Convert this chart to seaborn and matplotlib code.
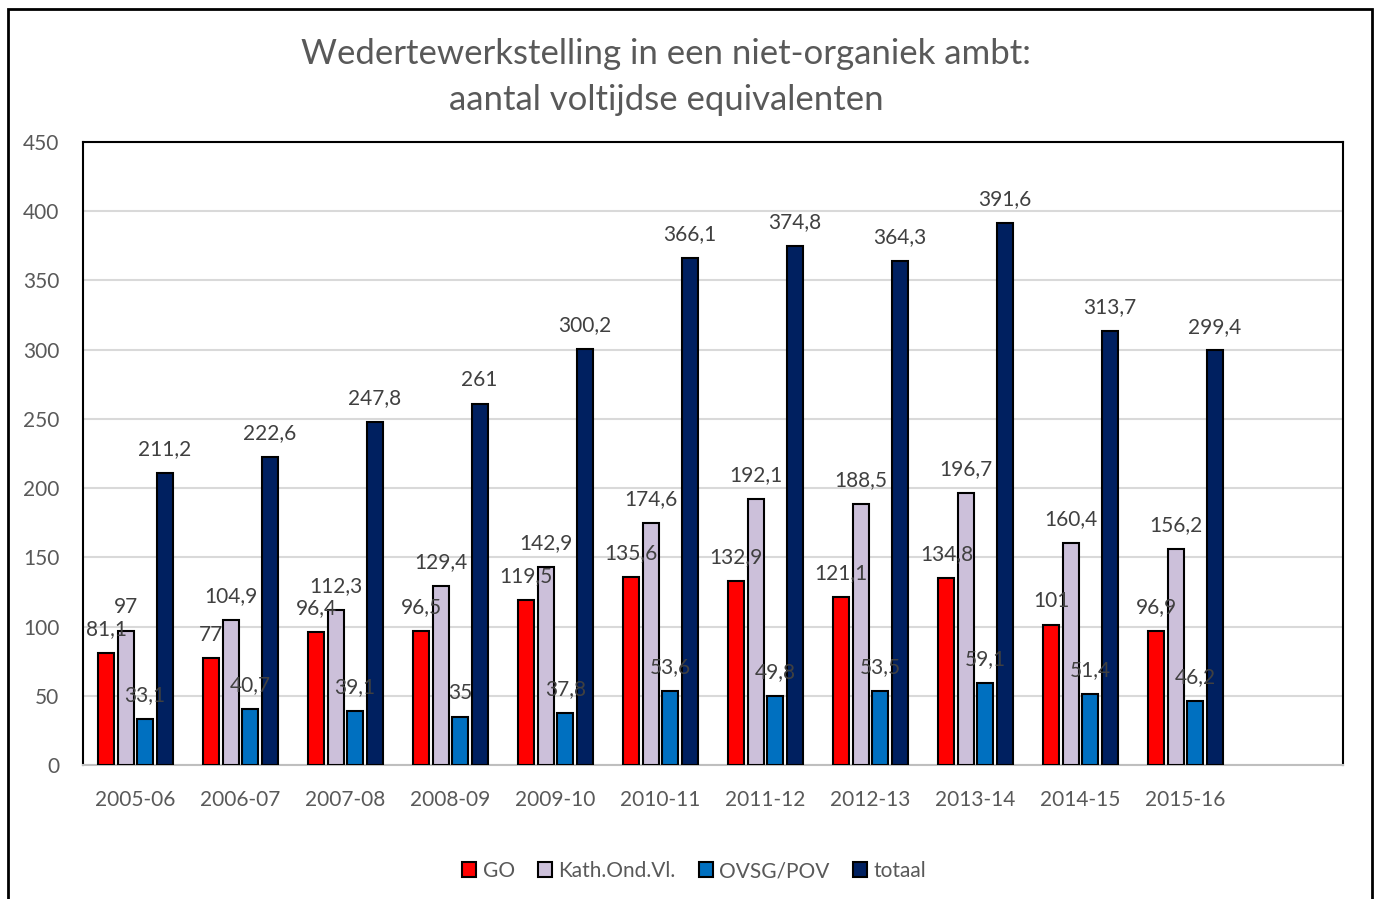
import pandas as pd
import matplotlib.pyplot as plt
import seaborn as sns
from matplotlib.patches import Rectangle

# Données
jaren = ["2005-06", "2006-07", "2007-08", "2008-09", "2009-10", "2010-11",
         "2011-12", "2012-13", "2013-14", "2014-15", "2015-16"]
go = [81.1, 77, 96.4, 96.5, 119.5, 135.6, 132.9, 121.1, 134.8, 101, 96.9]
kath = [97, 104.9, 112.3, 129.4, 142.9, 174.6, 192.1, 188.5, 196.7, 160.4, 156.2]
ovsg = [33.1, 40.7, 39.1, 35, 37.8, 53.6, 49.8, 53.5, 59.1, 51.4, 46.2]
totaal = [211.2, 222.6, 247.8, 261, 300.2, 366.1, 374.8, 364.3, 391.6, 313.7, 299.4]

reeksen = ["GO", "Kath.Ond.Vl.", "OVSG/POV", "totaal"]
kleuren = ["#FF0000", "#CCC0DA", "#0070C0", "#002060"]

df = pd.DataFrame({"jaar": jaren, "GO": go, "Kath.Ond.Vl.": kath,
                   "OVSG/POV": ovsg, "totaal": totaal})
df_long = df.melt(id_vars="jaar", var_name="reeks", value_name="vte")

sns.set_style("white")
plt.rcParams["font.family"] = ["Lato", "DejaVu Sans"]

fig = plt.figure(figsize=(13.78, 8.99), dpi=100)
ax = fig.add_axes([83 / 1378, 1 - 765 / 899, 1260 / 1378, 623 / 899])

sns.barplot(data=df_long, x="jaar", y="vte", hue="reeks", hue_order=reeksen,
            palette=kleuren, saturation=1, width=0.74, gap=0.18,
            edgecolor="black", linewidth=1.5, ax=ax, zorder=3)

def fmt(v):
    return f"{v:g}".replace(".", ",")

for cont, reeks in zip(ax.containers, reeksen):
    ax.bar_label(cont, labels=[fmt(v) for v in df[reeks]], padding=10,
                 fontsize=15, color="#404040", zorder=5)

ax.set_xlim(-0.5, 11.5)
ax.set_ylim(0, 450)
ax.set_yticks(range(0, 451, 50))
ax.yaxis.grid(True, color="#D9D9D9", linewidth=1.5, zorder=0)
ax.set_axisbelow(True)
ax.set_xlabel("")
ax.set_ylabel("")
ax.tick_params(axis="both", length=0, labelsize=15, labelcolor="#595959")
ax.tick_params(axis="y", pad=17)
ax.tick_params(axis="x", pad=18)
for s in ["top", "left", "right"]:
    ax.spines[s].set_color("black")
    ax.spines[s].set_linewidth(1.5)
ax.spines["bottom"].set_color("#BFBFBF")
ax.spines["bottom"].set_linewidth(1.5)

handles, labels = ax.get_legend_handles_labels()
ax.legend_.remove()
fig.legend(handles, labels, loc="center", bbox_to_anchor=(694 / 1378, 1 - 871 / 899),
           ncol=4, frameon=False, fontsize=15, handlelength=0.7, handleheight=0.7,
           handletextpad=0.3, columnspacing=1.1, labelcolor="#595959")

fig.text(666 / 1378, 1 - 77 / 899,
         "Wedertewerkstelling in een niet-organiek ambt:\naantal voltijdse equivalenten",
         ha="center", va="center", fontsize=25, color="#595959", linespacing=1.5)

# Cadre extérieur
fig.patches.append(Rectangle((8 / 1378, -0.02), 1364 / 1378, 1.02 - 9 / 899,
                             transform=fig.transFigure, fill=False,
                             edgecolor="black", linewidth=2))

fig.savefig("out.png", dpi=100)
